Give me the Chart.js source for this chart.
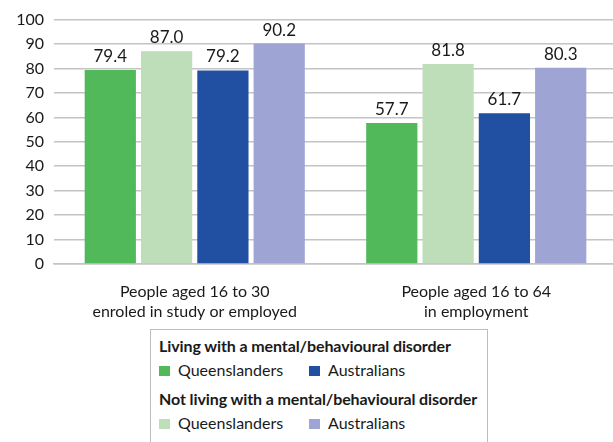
<!DOCTYPE html>
<html>
<head>
<meta charset="utf-8">
<script src="https://cdn.jsdelivr.net/npm/chart.js@4"></script>
<style>
  body { margin: 0; width: 613px; height: 442px; overflow: hidden; background: #fff; font-family: Lato, sans-serif; color: #1a1a1a; }
  #wrap { position: absolute; left: 0; top: 0; width: 617px; height: 322px; }
  #legend { position: absolute; left: 150px; top: 329px; width: 338px; height: 130px; box-sizing: border-box;
    border: 1.5px solid #bdbdbd; border-bottom: none; padding: 4px 0 0 8px; font-size: 16px; line-height: 24px; }
  #legend .head { font-weight: bold; white-space: nowrap; letter-spacing: -0.1px; }
  #legend .head.second { margin-top: 5px; }
  #legend .item { display: inline-block; width: 150px; }
  #legend .item:last-child { width: auto; }
  #legend .sw { display: inline-block; width: 11px; height: 10px; margin-right: 8px; }
</style>
</head>
<body>
<div id="wrap"><canvas id="myChart" width="617" height="322"></canvas></div>
<div id="legend"></div>
<script>
// categories and values
const categories = [
  ["People aged 16 to 30", "enroled in study or employed"],
  ["People aged 16 to 64", "in employment"]
];
const qldLiving = [79.4, 57.7];
const qldNotLiving = [87.0, 81.8];
const ausLiving = [79.2, 61.7];
const ausNotLiving = [90.2, 80.3];
const yTicks = [0, 10, 20, 30, 40, 50, 60, 70, 80, 90, 100];

const groupTitles = ["Living with a mental/behavioural disorder", "Not living with a mental/behavioural disorder"];
const seriesNames = ["Queenslanders", "Australians"];

const colors = {
  qldLiving: "#52b95b",
  qldNot: "#bddeb9",
  ausLiving: "#214fa1",
  ausNot: "#9ea5d4"
};

// value labels above each bar
const barLabels = {
  id: "barLabels",
  afterDatasetsDraw(chart) {
    const ctx = chart.ctx;
    ctx.save();
    ctx.font = "17px Lato";
    ctx.fillStyle = "#1a1a1a";
    ctx.textAlign = "center";
    ctx.textBaseline = "alphabetic";
    chart.data.datasets.forEach((ds, i) => {
      chart.getDatasetMeta(i).data.forEach((bar, j) => {
        ctx.fillText(ds.data[j].toFixed(1), bar.x, bar.y - 8);
      });
    });
    ctx.restore();
  }
};

const grid = "#c4c4c4";

const config = {
  type: "bar",
  data: {
    labels: categories,
    datasets: [
      { label: seriesNames[0], data: qldLiving, backgroundColor: colors.qldLiving },
      { label: seriesNames[0], data: qldNotLiving, backgroundColor: colors.qldNot },
      { label: seriesNames[1], data: ausLiving, backgroundColor: colors.ausLiving },
      { label: seriesNames[1], data: ausNotLiving, backgroundColor: colors.ausNot }
    ]
  },
  options: {
    responsive: false,
    animation: false,
    devicePixelRatio: 1,
    layout: { padding: { top: 12, left: 0, right: 0, bottom: 0 } },
    datasets: { bar: { categoryPercentage: 0.8, barPercentage: 0.91 } },
    plugins: { legend: { display: false }, tooltip: { enabled: false } },
    scales: {
      x: {
        grid: { display: false },
        border: { color: grid, width: 1.5 },
        ticks: { color: "#1a1a1a", padding: 10, maxRotation: 0, font: { family: "Lato", size: 16, lineHeight: 1.25 } },
        afterFit(scale) { scale.height = 58; }
      },
      y: {
        min: 0,
        max: 100,
        afterBuildTicks(scale) { scale.ticks = yTicks.map(v => ({ value: v })); },
        grid: { color: grid, lineWidth: 1.5, drawTicks: false },
        border: { display: false },
        ticks: { color: "#1a1a1a", padding: 10, font: { family: "Lato", size: 16 } },
        afterFit(scale) { scale.width = 54; }
      }
    }
  },
  plugins: [barLabels]
};

const myChart = new Chart(document.getElementById("myChart").getContext("2d"), config);

// legend box
const legendRows = [
  [colors.qldLiving, colors.ausLiving],
  [colors.qldNot, colors.ausNot]
];
let html = "";
groupTitles.forEach((t, g) => {
  html += '<div class="head' + (g ? ' second' : '') + '">' + t + '</div><div>';
  seriesNames.forEach((n, k) => {
    html += '<span class="item"><span class="sw" style="background:' + legendRows[g][k] + '"></span>' + n + '</span>';
  });
  html += '</div>';
});
document.getElementById("legend").innerHTML = html;
</script>
</body>
</html>
